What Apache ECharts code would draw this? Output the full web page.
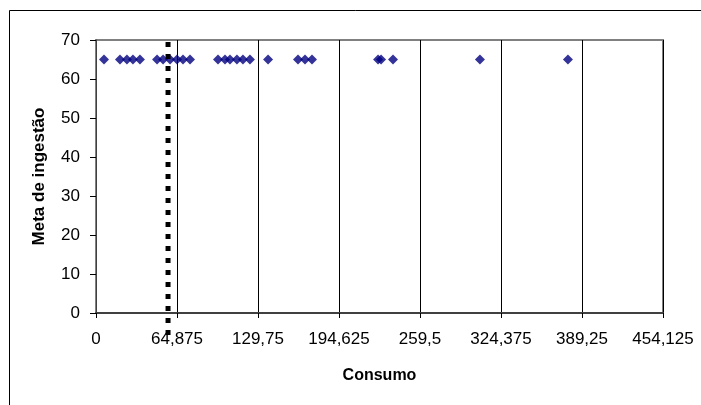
<!DOCTYPE html>
<html>
<head>
<meta charset="utf-8">
<script src="https://cdn.jsdelivr.net/npm/echarts@6/dist/echarts.min.js"></script>
<style>
html,body{margin:0;padding:0;background:#fff;}
#c{width:701px;height:405px;}
</style>
</head>
<body>
<div id="c"></div>
<script>
// Data
var consumo = [6.4, 19.2, 24.8, 29.6, 35.2, 48.9, 53.7, 59.3, 64.9, 69.7, 75.3,
               97.7, 103.3, 107.3, 112.9, 117.7, 123.3, 137.8, 161.8, 167.4, 173.0,
               225.9, 228.3, 237.9, 307.5, 378.0];
var meta = [65, 65, 65, 65, 65, 65, 65, 65, 65, 65, 65, 65, 65, 65, 65, 65, 65,
            65, 65, 65, 65, 65, 65, 65, 65, 65];
var xTicks = [0, 64.875, 129.75, 194.625, 259.5, 324.375, 389.25, 454.125];
var yTicks = [0, 10, 20, 30, 40, 50, 60, 70];
var refLine = [57.7];

var points = consumo.map(function (v, i) { return [v, meta[i]]; });

var chart = echarts.init(document.getElementById('c'));
chart.setOption({
  animation: false,
  backgroundColor: '#fff',
  textStyle: { fontFamily: 'Liberation Sans, Arial, sans-serif' },
  graphic: [{
    type: 'rect', left: 7, top: 8, silent: true,
    shape: { width: 720, height: 420 },
    style: { fill: 'none', stroke: '#000', lineWidth: 1 },
    z: -10
  }],
  grid: {
    left: 96, right: 38, top: 40, bottom: 92,
    show: true, borderColor: '#808080', borderWidth: 2, backgroundColor: '#fff'
  },
  xAxis: {
    type: 'value',
    min: xTicks[0], max: xTicks[xTicks.length - 1], interval: xTicks[1] - xTicks[0],
    name: 'Consumo', nameLocation: 'middle', nameGap: 55,
    nameTextStyle: { fontWeight: 'bold', fontSize: 16, color: '#000' },
    axisLine: { onZero: false, lineStyle: { color: '#404040', width: 2 } },
    axisTick: { show: true, length: 5, lineStyle: { color: '#000' } },
    axisLabel: {
      color: '#000', fontSize: 17, margin: 18,
      formatter: function (v) { return String(v).replace('.', ','); }
    },
    splitLine: { show: true, lineStyle: { color: '#000', width: 1 } }
  },
  yAxis: {
    type: 'value',
    min: yTicks[0], max: yTicks[yTicks.length - 1], interval: yTicks[1] - yTicks[0],
    name: 'Meta de ingestão', nameLocation: 'middle', nameGap: 48,
    nameTextStyle: { fontWeight: 'bold', fontSize: 17, color: '#000' },
    axisLine: { show: true, lineStyle: { color: '#404040', width: 1 } },
    axisTick: { show: true, length: 6, lineStyle: { color: '#000' } },
    axisLabel: { color: '#000', fontSize: 17, margin: 16 },
    splitLine: { show: false }
  },
  series: [{
    type: 'scatter',
    data: points,
    symbol: 'diamond',
    symbolSize: [10, 10],
    itemStyle: { color: '#000080' },
    z: 3
  }, {
    type: 'custom',
    data: refLine.map(function (v) { return [v]; }),
    renderItem: function (params, api) {
      var top = api.coord([api.value(0), yTicks[yTicks.length - 1]]);
      var bot = api.coord([api.value(0), yTicks[0]]);
      return {
        type: 'line',
        shape: { x1: top[0], y1: top[1] + 2, x2: bot[0], y2: bot[1] + 24 },
        style: { stroke: '#000', lineWidth: 5, lineDash: [5, 7] },
        z2: 10
      };
    },
    clip: false,
    z: 5
  }]
});
</script>
</body>
</html>
